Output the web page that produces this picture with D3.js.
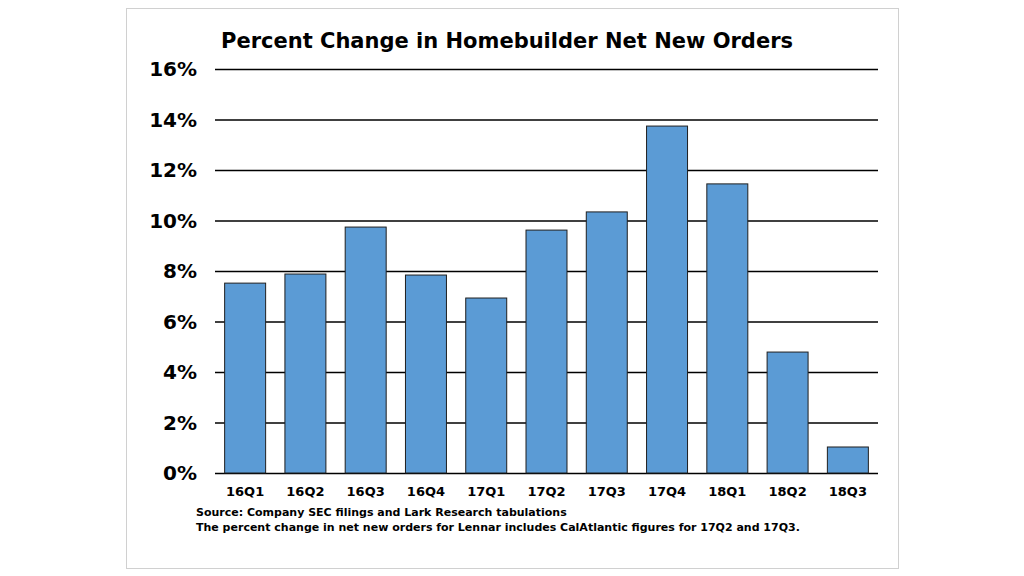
<!DOCTYPE html><html><head><meta charset="utf-8">
<script src="https://cdn.jsdelivr.net/npm/d3@7"></script>
<style>body{margin:0;background:#fff}svg{font-family:"DejaVu Sans",Verdana,sans-serif;font-weight:bold}</style>
</head><body><svg id="c" width="1024" height="576"></svg>
<script>
const categories=["16Q1","16Q2","16Q3","16Q4","17Q1","17Q2","17Q3","17Q4","18Q1","18Q2","18Q3"];
const values=[7.52,7.88,9.74,7.84,6.93,9.62,10.34,13.74,11.45,4.79,1.03];
const yTicks=[0,2,4,6,8,10,12,14,16];
const svg=d3.select("#c");
svg.append("rect").attr("x",126.5).attr("y",8.5).attr("width",772).attr("height",560).attr("fill","#fff").attr("stroke","#d0d0d0");
const x=d3.scaleBand().domain(categories).range([215,878]).paddingInner(0.32).paddingOuter(0.16);
const y=d3.scaleLinear().domain([0,16]).range([473,69]);
svg.append("g").selectAll("line").data(yTicks).join("line").attr("x1",215).attr("x2",878)
 .attr("y1",d=>y(d)+0.5).attr("y2",d=>y(d)+0.5).attr("stroke","#000").attr("stroke-width",1.3);
svg.append("g").selectAll("text").data(yTicks).join("text").attr("x",197).attr("y",d=>y(d)+7)
 .attr("text-anchor","end").attr("font-size",20).text(d=>d+"%");
svg.append("g").selectAll("rect").data(values).join("rect").attr("x",(d,i)=>x(categories[i])).attr("width",x.bandwidth())
 .attr("y",d=>y(d)).attr("height",d=>y(0)-y(d)).attr("fill","#5b9bd5").attr("stroke","#1f1f1f").attr("stroke-width",1);
svg.append("g").selectAll("text").data(categories).join("text").attr("x",d=>x(d)+x.bandwidth()/2).attr("y",496)
 .attr("text-anchor","middle").attr("font-size",13).text(d=>d);
svg.append("text").attr("x",507).attr("y",48).attr("text-anchor","middle").attr("font-size",21).text("Percent Change in Homebuilder Net New Orders");
svg.append("text").attr("x",196).attr("y",516).attr("font-size",11).text("Source:  Company SEC filings and Lark Research tabulations");
svg.append("text").attr("x",196).attr("y",531).attr("font-size",11).text("The percent change in net new orders for Lennar includes CalAtlantic figures for 17Q2 and 17Q3.");
</script></body></html>
